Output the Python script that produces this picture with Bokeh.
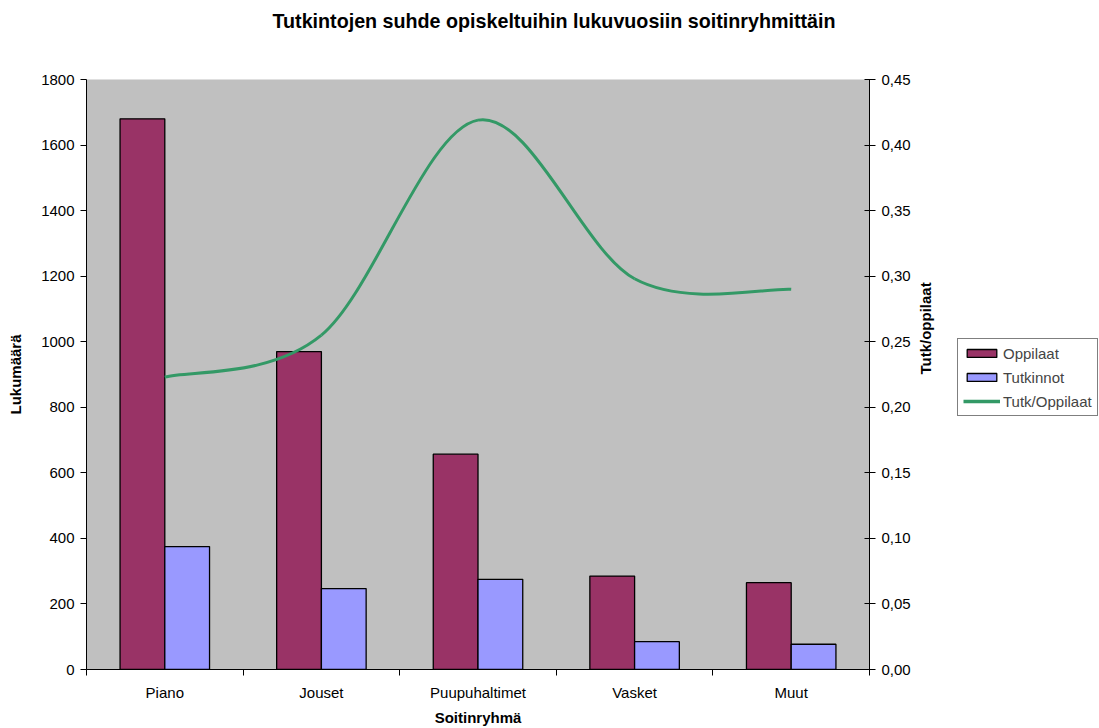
import numpy as np
from bokeh.plotting import figure
from bokeh.layouts import row
from bokeh.models import (Range1d, LinearAxis, FixedTicker, CustomJSTickFormatter,
                          Legend, LegendItem, Title)
from bokeh.embed import file_html
from bokeh.resources import INLINE

# ---- data ----
categories = ["Piano", "Jouset", "Puupuhaltimet", "Vasket", "Muut"]
oppilaat = [1680, 970, 657, 285, 265]
tutkinnot = [375, 247, 275, 85, 77]
suhde = [0.223, 0.255, 0.419, 0.298, 0.290]
left_ticks = [0, 200, 400, 600, 800, 1000, 1200, 1400, 1600, 1800]
right_ticks = [0.0, 0.05, 0.10, 0.15, 0.20, 0.25, 0.30, 0.35, 0.40, 0.45]
series_names = ["Oppilaat", "Tutkinnot", "Tutk/Oppilaat"]

FONT = "Liberation Sans"
MAROON = "#993366"
BLUE = "#9999FF"
GREEN = "#339966"

n = len(categories)
pos = np.arange(n) + 0.5
bw = 1.0 / 3.5

p = figure(width=957, height=728, x_range=Range1d(0, n), y_range=Range1d(0, 1800),
           output_backend="svg", toolbar_location=None,
           min_border_left=86, min_border_right=88, min_border_top=79, min_border_bottom=59,
           background_fill_color="#C0C0C0", border_fill_color="white")
p.outline_line_color = None
p.grid.visible = False
p.extra_y_ranges = {"ratio": Range1d(0, 0.45)}

p.vbar(x=pos - bw / 2, top=oppilaat, width=bw, fill_color=MAROON, line_color="black", line_width=1.3)
p.vbar(x=pos + bw / 2, top=tutkinnot, width=bw, fill_color=BLUE, line_color="black", line_width=1.3)

# smoothed line (Catmull-Rom style bezier segments through the data points)
y = np.array(suhde)
x0, y0, x1, y1, cx0, cy0, cx1, cy1 = [], [], [], [], [], [], [], []
for i in range(n - 1):
    a = max(i - 1, 0)
    b = min(i + 2, n - 1)
    x0.append(pos[i]); y0.append(y[i]); x1.append(pos[i + 1]); y1.append(y[i + 1])
    cx0.append(pos[i] + (pos[i + 1] - pos[a]) / 6); cy0.append(y[i] + (y[i + 1] - y[a]) / 6)
    cx1.append(pos[i + 1] - (pos[b] - pos[i]) / 6); cy1.append(y[i + 1] - (y[b] - y[i]) / 6)
p.bezier(x0=x0, y0=y0, x1=x1, y1=y1, cx0=cx0, cy0=cy0, cx1=cx1, cy1=cy1,
         y_range_name="ratio", line_color=GREEN, line_width=3)

# x axis
xa = p.xaxis[0]
xa.ticker = FixedTicker(ticks=list(pos), minor_ticks=list(range(n + 1)))
xa.formatter = CustomJSTickFormatter(args=dict(names=categories),
                                     code="return names[Math.floor(tick)];")
xa.major_tick_out = 0
xa.major_tick_in = 0
xa.minor_tick_out = 6
xa.minor_tick_in = 0
xa.minor_tick_line_color = "black"
xa.major_label_standoff = 8
xa.axis_label = "Soitinryhmä"
xa.axis_label_standoff = 5

# left axis
ya = p.yaxis[0]
ya.ticker = FixedTicker(ticks=left_ticks)
ya.major_tick_out = 6
ya.major_tick_in = 0
ya.minor_tick_line_color = None
ya.major_label_standoff = 6
ya.axis_label = "Lukumäärä"
ya.axis_label_standoff = 14

# right axis
ra = LinearAxis(y_range_name="ratio", ticker=FixedTicker(ticks=right_ticks),
                formatter=CustomJSTickFormatter(code="return tick.toFixed(2).replace('.', ',');"))
ra.major_tick_out = 6
ra.major_tick_in = 5
ra.minor_tick_line_color = None
ra.major_label_standoff = 6
ra.axis_label = "Tutk/oppilaat"
ra.axis_label_standoff = 12
ra.axis_label_orientation = np.pi / 2
p.add_layout(ra, "right")

for ax in [xa, ya, ra]:
    ax.axis_line_color = "black"
    ax.major_tick_line_color = "black"
    ax.major_label_text_font = FONT
    ax.major_label_text_font_size = "15px"
    ax.major_label_text_color = "black"
    ax.axis_label_text_font = FONT
    ax.axis_label_text_font_size = "15px"
    ax.axis_label_text_font_style = "bold"
    ax.axis_label_text_color = "black"

# spacer between plot area and title
p.add_layout(Title(text=" ", text_font_size="36px", standoff=0), "above")

p.title.text = "Tutkintojen suhde opiskeltuihin lukuvuosiin soitinryhmittäin"
p.title.text_font = FONT
p.title.text_font_size = "19.7px"
p.title.text_font_style = "bold"
p.title.text_color = "black"
p.title.align = "left"
p.title.offset = 186
p.title.standoff = 10

# legend panel (separate figure to the right; proxy glyphs are hidden, only legend shows)
q = figure(width=142, height=728, x_range=Range1d(-2, -1), y_range=Range1d(-2, -1),
           output_backend="svg", toolbar_location=None, x_axis_type=None, y_axis_type=None,
           min_border=0, min_border_left=0, min_border_right=0, min_border_top=0,
           min_border_bottom=0, background_fill_color="white", border_fill_color="white")
q.outline_line_color = None
q.grid.visible = False
d1 = q.vbar(x=pos, top=oppilaat, width=bw, fill_color=MAROON, line_color="black", line_width=1.3)
d2 = q.vbar(x=pos, top=tutkinnot, width=bw, fill_color=BLUE, line_color="black", line_width=1.3)
d3 = q.line(x=pos, y=suhde, line_color=GREEN, line_width=3.5)
for d in (d1, d2, d3):
    d.visible = False

legend = Legend(items=[LegendItem(label=series_names[0], renderers=[d1]),
                       LegendItem(label=series_names[1], renderers=[d2]),
                       LegendItem(label=series_names[2], renderers=[d3])],
                location=(0, 253), click_policy="none")
legend.glyph_width = 37
legend.glyph_height = 10
legend.label_height = 18
legend.spacing = 6
legend.padding = 5
legend.margin = 0
legend.label_standoff = 3
legend.label_text_font = FONT
legend.label_text_font_size = "15px"
legend.border_line_color = "black"
legend.border_line_width = 1
legend.background_fill_color = "white"
legend.background_fill_alpha = 1
q.add_layout(legend, "center")

layout = row(p, q, spacing=0)
open("out.html", "w").write(file_html(layout, INLINE))
